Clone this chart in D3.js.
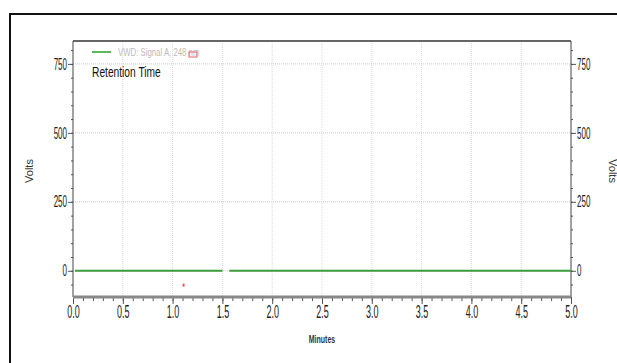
<!DOCTYPE html>
<html><head><meta charset="utf-8">
<script src="https://cdn.jsdelivr.net/npm/d3@7"></script>
<style>
html,body{margin:0;padding:0;background:#fff;overflow:hidden;}
text{font-family:"Liberation Sans",Arial,sans-serif;}
</style></head>
<body>
<svg id="chart" width="617" height="363"></svg>
<script>
// ---- data ----
const xMajorTicks = [0.0, 0.5, 1.0, 1.5, 2.0, 2.5, 3.0, 3.5, 4.0, 4.5, 5.0];
const yMajorTicks = [0, 250, 500, 750];
const signalTimes = [0.02, 1.50, 1.51, 1.57, 5.00];
const signalVolts = [0, 0, null, 0, 0];
const markerTimes = [1.11];
const markerVolts = [-52];
const seriesName = "VWD: Signal A, 248 nm";
const chartTitle = "Retention Time";
const xTitle = "Minutes";
const yTitle = "Volts";

const svg = d3.select("#chart");
const L = 73, R = 571, T = 41, B = 297;
const x = d3.scaleLinear().domain([0, 5]).range([L, R]);
const y = d3.scaleLinear().domain([-95, 833]).range([B, T]);
const xMinor = d3.range(0, 5.0001, 0.1);
const yMinor = d3.range(-50, 833, 50);
const SX = 0.5;

// outer frame
svg.append("rect").attr("x", 10).attr("y", 14).attr("width", 700).attr("height", 400)
  .attr("fill", "none").attr("stroke", "#111").attr("stroke-width", 2);

// grid
svg.append("g").selectAll("line").data(xMajorTicks.slice(1, -1)).join("line")
  .attr("x1", d => x(d)).attr("x2", d => x(d)).attr("y1", T).attr("y2", B)
  .attr("stroke", "#d8d8d8").attr("stroke-dasharray", "1,1");
svg.append("g").selectAll("line").data(yMajorTicks).join("line")
  .attr("x1", L).attr("x2", R).attr("y1", d => y(d)).attr("y2", d => y(d))
  .attr("stroke", "#c8c8c8").attr("stroke-dasharray", "1,1");

// axes
function styleAxis(g) {
  g.select(".domain").remove();
  g.selectAll(".tick line").attr("stroke", "#555");
  g.selectAll(".tick text").attr("fill", "#222");
}
// left
svg.append("g").attr("transform", `translate(${L},0)`)
  .call(d3.axisLeft(y).tickValues(yMinor).tickSize(2).tickFormat("")).call(styleAxis);
const yl = svg.append("g").attr("transform", `translate(${L},0)`)
  .call(d3.axisLeft(y).tickValues(yMajorTicks).tickSize(5).tickPadding(1).tickFormat(d3.format("d")))
  .call(styleAxis);
yl.selectAll(".tick text").attr("font-size", 16).attr("x", -6 / SX).attr("transform", `scale(${SX},1)`);
// right
svg.append("g").attr("transform", `translate(${R},0)`)
  .call(d3.axisRight(y).tickValues(yMinor).tickSize(2).tickFormat("")).call(styleAxis);
const yr = svg.append("g").attr("transform", `translate(${R},0)`)
  .call(d3.axisRight(y).tickValues(yMajorTicks).tickSize(5).tickFormat(d3.format("d")))
  .call(styleAxis);
yr.selectAll(".tick text").attr("font-size", 16).attr("x", 6 / SX).attr("transform", `scale(${SX},1)`);
// bottom
svg.append("g").attr("transform", `translate(0,${B})`)
  .call(d3.axisBottom(x).tickValues(xMinor).tickSize(4).tickFormat("")).call(styleAxis);
const xb = svg.append("g").attr("transform", `translate(0,${B})`)
  .call(d3.axisBottom(x).tickValues(xMajorTicks).tickSize(7).tickFormat(d3.format(".1f")))
  .call(styleAxis);
xb.selectAll(".tick text").attr("font-size", 18).attr("y", 8).attr("transform", `scale(${SX},1)`);

// frame lines
svg.append("line").attr("x1", L).attr("x2", R).attr("y1", T).attr("y2", T).attr("stroke", "#666").attr("stroke-width", 2);
svg.append("line").attr("x1", L).attr("x2", L).attr("y1", T).attr("y2", B).attr("stroke", "#444");
svg.append("line").attr("x1", R).attr("x2", R).attr("y1", T).attr("y2", B).attr("stroke", "#444");
svg.append("line").attr("x1", L).attr("x2", R).attr("y1", B).attr("y2", B).attr("stroke", "#888").attr("stroke-width", 3);

// series
const pts = signalTimes.map((t, i) => [t, signalVolts[i]]);
svg.append("path").datum(pts)
  .attr("d", d3.line().defined(d => d[1] !== null).x(d => x(d[0])).y(d => y(d[1])))
  .attr("fill", "none").attr("stroke", "#3d9b3d").attr("stroke-width", 2);
svg.append("g").selectAll("rect").data(markerTimes).join("rect")
  .attr("x", d => x(d) - 1).attr("y", (d, i) => y(markerVolts[i]) - 1.5)
  .attr("width", 2).attr("height", 3).attr("fill", "#f05050");

// legend
svg.append("line").attr("x1", 92).attr("x2", 111).attr("y1", 52).attr("y2", 52)
  .attr("stroke", "#5cb85c").attr("stroke-width", 2);
svg.append("text").text(seriesName).attr("font-size", 11).attr("fill", "#bbb")
  .attr("transform", "translate(118,56) scale(0.71,1)");
svg.append("rect").attr("x", 189).attr("y", 52).attr("width", 8).attr("height", 5)
  .attr("fill", "none").attr("stroke", "#f06060").attr("stroke-width", 1);
svg.append("text").text(chartTitle).attr("font-size", 14).attr("fill", "#111")
  .attr("transform", "translate(92,77) scale(0.73,1)");

// axis titles
svg.append("text").text(xTitle).attr("font-size", 10).attr("fill", "#333").attr("font-weight", "bold")
  .attr("text-anchor", "middle").attr("transform", "translate(322,343) scale(0.7,1)");
svg.append("text").text(yTitle).attr("font-size", 11).attr("fill", "#333")
  .attr("text-anchor", "middle").attr("transform", "translate(33,171) rotate(-90)");
svg.append("text").text(yTitle).attr("font-size", 11).attr("fill", "#333")
  .attr("text-anchor", "middle").attr("transform", "translate(609,171) rotate(90)");
</script>
</body></html>
